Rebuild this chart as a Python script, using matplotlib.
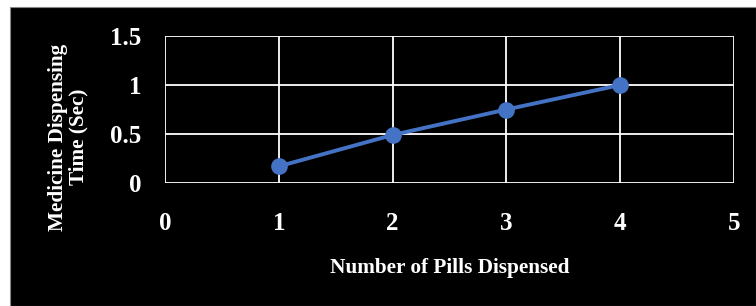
import matplotlib.pyplot as plt
from matplotlib.patches import Rectangle

# data
pills = [1, 2, 3, 4]
dispense_time = [0.17, 0.49, 0.75, 1.0]
x_ticks = [0, 1, 2, 3, 4, 5]
y_ticks = [0, 0.5, 1, 1.5]
y_tick_labels = ['0', '0.5', '1', '1.5']

W, H = 756, 306
fig = plt.figure(figsize=(W / 100, H / 100), dpi=100, facecolor='white')

# black chart area below a thin white band
fig.patches.append(Rectangle((10 / W, 0), 1 - 10 / W, (H - 7) / H,
                             transform=fig.transFigure, facecolor='black',
                             edgecolor='#888888', linewidth=0.8, zorder=-5))

ax = fig.add_axes([165 / W, (H - 183) / H, (734 - 165) / W, (183 - 36) / H])
ax.set_facecolor('black')
ax.set_zorder(2)

font = dict(family='Liberation Serif', weight='bold', color='white')

ax.plot(pills, dispense_time, color='#4472C4', linewidth=2.8, marker='o',
        markersize=11, zorder=3, clip_on=False)

ax.set_xlim(0, 5)
ax.set_ylim(0, 1.5)
ax.set_xticks(x_ticks)
ax.set_yticks(y_ticks)
ax.set_yticklabels(y_tick_labels)
ax.grid(True, color='white', linewidth=1.3)
ax.set_axisbelow(True)
for s in ax.spines.values():
    s.set_visible(False)
ax.tick_params(length=0, labelcolor='white', labelsize=18)
ax.tick_params(axis='x', pad=21)
ax.tick_params(axis='y', pad=17)
for lab in ax.get_xticklabels() + ax.get_yticklabels():
    lab.set_fontfamily('Liberation Serif')
    lab.set_fontweight('bold')

fig.text(449.5 / W, 1 - 268 / H, 'Number of Pills Dispensed', ha='center',
         va='center', fontsize=15.3, **font)
fig.text(68 / W, 1 - 137 / H, 'Medicine Dispensing\nTime (Sec)', ha='center',
         va='center', rotation=90, fontsize=15.3, linespacing=1.05, **font)

fig.savefig('out.png', dpi=100, facecolor=fig.get_facecolor())
